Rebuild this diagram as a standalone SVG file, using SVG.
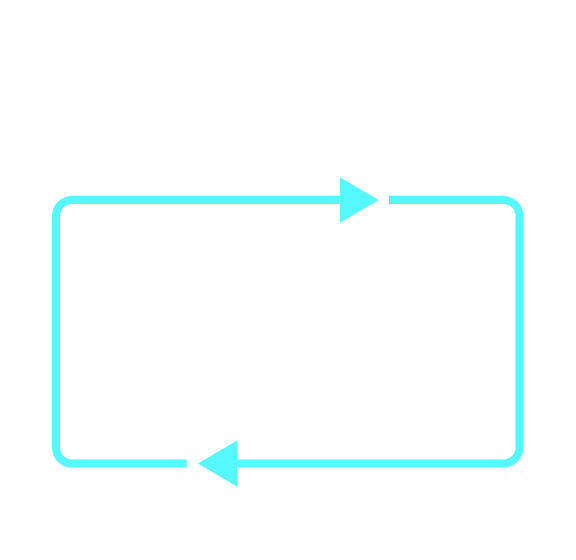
<svg xmlns="http://www.w3.org/2000/svg" width="576" height="560" viewBox="0 0 576 560">
<style>
.conn{fill:none;stroke:#55f8ff;stroke-width:8;}
.head{fill:#55f8ff;}
</style>
<defs>
<marker id="arrow" viewBox="0 0 39 46" refX="0" refY="23" markerWidth="39" markerHeight="46" markerUnits="userSpaceOnUse" orient="auto">
<path class="head" d="M0,0 L39,23 L0,46 Z"/>
</marker>
</defs>
<rect width="576" height="560" fill="#ffffff"/>
<g id="connectors">
<path class="conn" d="M186.7,463.5 H72 A16,16 0 0 1 56,447.5 V216 A16,16 0 0 1 72,200 H339.5" marker-end="url(#arrow)"/>
<path class="conn" d="M389,200 H503.5 A16,16 0 0 1 519.5,216 V447.5 A16,16 0 0 1 503.5,463.5 H237" marker-end="url(#arrow)"/>
</g>
</svg>
